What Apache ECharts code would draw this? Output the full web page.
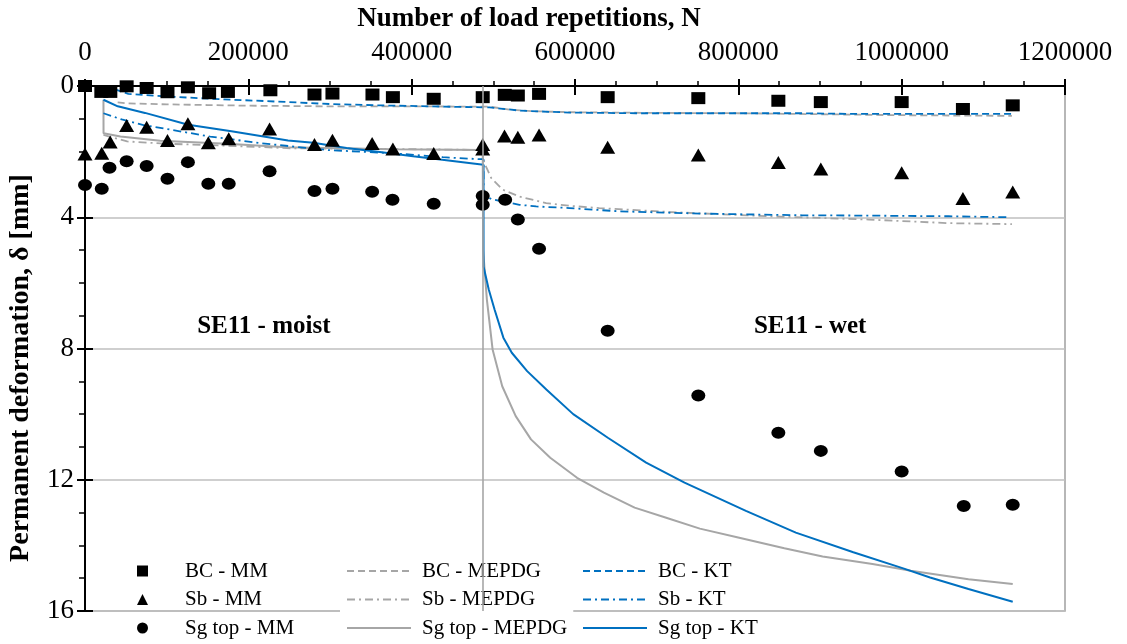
<!DOCTYPE html>
<html>
<head>
<meta charset="utf-8">
<script src="https://cdn.jsdelivr.net/npm/echarts@6/dist/echarts.min.js"></script>
<style>
  html, body { margin: 0; padding: 0; background: #fff; }
  #chart { width: 1127px; height: 644px; }
</style>
</head>
<body>
<div id="chart"></div>
<script>
// ---------- Data (N = load repetitions, δ = permanent deformation in mm) ----------
const xTicks = [0, 200000, 400000, 600000, 800000, 1000000, 1200000];
const yTicks = [0, 4, 8, 12, 16];
const separatorN = 487000;

const bcMM = [[0,0],[20000,0.18],[31000,0.18],[51000,0.01],[75500,0.06],[101000,0.19],[126000,0.04],[152000,0.22],[175000,0.18],[227000,0.13],[281000,0.26],[303000,0.23],[352000,0.26],[377000,0.34],[427000,0.39],[487000,0.34],[514000,0.27],[530000,0.29],[556000,0.24],[640000,0.34],[751000,0.37],[849000,0.45],[901000,0.49],[1000000,0.49],[1075000,0.7],[1136000,0.59]];
const sbMM = [[0,2.07],[20500,2.05],[30800,1.71],[51000,1.2],[75500,1.26],[101000,1.66],[126000,1.15],[151000,1.73],[176000,1.61],[226000,1.31],[281000,1.78],[303000,1.65],[351600,1.75],[377000,1.92],[427000,2.06],[487000,1.78],[487000,1.92],[513700,1.52],[530000,1.56],[556000,1.49],[640000,1.87],[751000,2.1],[849000,2.33],[901000,2.53],[1000000,2.64],[1075000,3.43],[1136000,3.23]];
const sgMM = [[0,3.02],[20500,3.13],[30000,2.49],[51000,2.29],[75500,2.44],[101000,2.83],[126000,2.32],[151000,2.98],[176000,2.98],[226000,2.6],[281000,3.2],[303000,3.13],[351600,3.22],[376500,3.47],[427000,3.59],[487000,3.35],[487000,3.62],[514500,3.47],[530000,4.07],[556000,4.96],[640000,7.46],[751000,9.43],[849000,10.57],[901000,11.12],[1000000,11.75],[1076000,12.8],[1136000,12.76]];

const bcMEPDG = [[40000,0.5],[53000,0.53],[100000,0.56],[150000,0.58],[200000,0.6],[250000,0.61],[300000,0.62],[400000,0.62],[487000,0.63],[495000,0.63],[520000,0.72],[550000,0.77],[600000,0.8],[650000,0.81],[700000,0.82],[800000,0.83],[900000,0.86],[1000000,0.89],[1135000,0.91]];
const sbMEPDG = [[22600,1.49],[51600,1.69],[100400,1.76],[173700,1.82],[255100,1.9],[377300,1.92],[486000,1.95],[487000,2.1],[489000,2.35],[497500,2.81],[511600,3.16],[532000,3.37],[564700,3.57],[593100,3.65],[629700,3.72],[715200,3.84],[837500,3.97],[959600,4.07],[1057400,4.18],[1135000,4.21]];
const sgMEPDG = [[22600,0.42],[22700,1.44],[43400,1.54],[92200,1.67],[173700,1.76],[247000,1.87],[377300,1.93],[487000,1.95],[487500,5.0],[492100,6.51],[499100,8.03],[510900,9.15],[527400,10.06],[546100,10.77],[569700,11.33],[602500,11.94],[635400,12.39],[673000,12.85],[710700,13.15],[752900,13.49],[799800,13.76],[856300,14.09],[903200,14.34],[964300,14.57],[1011300,14.77],[1081800,15.03],[1136000,15.18]];

const bcKT = [[22600,0.05],[37600,0.11],[53100,0.24],[93800,0.31],[154900,0.39],[248600,0.49],[299900,0.55],[361000,0.59],[422100,0.62],[487000,0.65],[495400,0.65],[532000,0.75],[593100,0.81],[674600,0.83],[878200,0.83],[935200,0.85],[1135000,0.85]];
const sbKT = [[22600,0.83],[45000,1.02],[71800,1.19],[153300,1.54],[214400,1.74],[295900,1.95],[377300,2.05],[438300,2.17],[483200,2.23],[488000,2.23],[488000,3.3],[497500,3.45],[511600,3.52],[532000,3.62],[552400,3.67],[593100,3.72],[654200,3.82],[756000,3.89],[878200,3.94],[959600,3.95],[1057400,3.97],[1132000,4.0]];
const sgKT = [[22600,0.42],[40100,0.62],[73500,0.82],[126400,1.18],[179300,1.38],[248600,1.66],[279500,1.73],[320300,1.89],[361000,2.01],[401700,2.14],[442500,2.26],[485300,2.39],[488000,2.4],[488000,5.5],[494400,6.2],[501500,6.81],[512300,7.67],[522600,8.13],[541400,8.69],[564900,9.25],[597800,10.0],[640200,10.72],[687100,11.48],[734100,12.09],[809300,12.95],[870400,13.61],[940800,14.21],[1001900,14.7],[1034800,14.98],[1081800,15.33],[1136000,15.72]];

const annotations = [
  { text: 'SE11 - moist', at: [219000, 7.33] },
  { text: 'SE11 - wet', at: [888000, 7.33] }
];

// ---------- Styling ----------
const FONT = '"Liberation Serif", "Times New Roman", serif';
const GRAY = '#a6a6a6';
const BLUE = '#0070c0';
const DASH = [7, 4];
const DASHDOT = [8, 4, 2, 4];

const chart = echarts.init(document.getElementById('chart'), null, { renderer: 'canvas' });

function scatter(name, data, symbol, size) {
  return { name, type: 'scatter', data, symbol, symbolSize: size, z: 4,
           itemStyle: { color: '#000', opacity: 1 }, animation: false };
}
function line(name, data, color, type, width) {
  return { name, type: 'line', data, showSymbol: false, symbol: 'none', z: 2,
           lineStyle: { color, type, width }, itemStyle: { color }, animation: false };
}

const sgMEPDGSeries = line('Sg top - MEPDG', sgMEPDG, GRAY, 'solid', 2);
sgMEPDGSeries.markLine = {
  silent: true, symbol: ['none', 'none'], label: { show: false }, animation: false,
  lineStyle: { color: GRAY, type: 'solid', width: 1.6 },
  data: [[{ coord: [separatorN, yTicks[0]] }, { coord: [separatorN, yTicks[yTicks.length - 1]] }]]
};

const legendText = { fontFamily: FONT, fontSize: 21, color: '#000', lineHeight: 22 };
const plainNum = v => String(v);

const option = {
  backgroundColor: '#fff',
  animation: false,
  grid: { left: 85, right: 62, top: 86, bottom: 33, show: true, borderColor: GRAY, borderWidth: 1.6, backgroundColor: 'transparent' },
  xAxis: [{
    type: 'value', position: 'top', min: xTicks[0], max: xTicks[xTicks.length - 1], interval: xTicks[1] - xTicks[0],
    axisLine: { show: true, onZero: false, lineStyle: { color: '#000', width: 2 } },
    axisTick: { show: true, length: 7, lineStyle: { color: '#000', width: 2 } },
    minorTick: { show: true, splitNumber: 4, length: 5, lineStyle: { color: '#000', width: 1.5 } },
    splitLine: { show: false },
    axisLabel: { fontFamily: FONT, fontSize: 27, color: '#000', margin: 20, formatter: plainNum }
  }, {
    type: 'value', position: 'top', min: xTicks[0], max: xTicks[xTicks.length - 1], interval: xTicks[1] - xTicks[0],
    axisLine: { show: false },
    axisTick: { show: true, inside: true, length: 9, lineStyle: { color: '#000', width: 2 } },
    axisLabel: { show: false }, splitLine: { show: false }
  }],
  yAxis: [{
    type: 'value', inverse: true, min: yTicks[0], max: yTicks[yTicks.length - 1], interval: yTicks[1] - yTicks[0],
    axisLine: { show: true, onZero: false, lineStyle: { color: '#000', width: 2 } },
    axisTick: { show: true, length: 8, lineStyle: { color: '#000', width: 2 } },
    minorTick: { show: true, splitNumber: 4, length: 6, lineStyle: { color: '#000', width: 1.5 } },
    splitLine: { show: true, lineStyle: { color: '#bfbfbf', width: 1.6 } },
    axisLabel: { fontFamily: FONT, fontSize: 27, color: '#000', margin: 11, formatter: plainNum }
  }, {
    type: 'value', inverse: true, min: yTicks[0], max: yTicks[yTicks.length - 1], interval: yTicks[1] - yTicks[0],
    position: 'left',
    axisLine: { show: false },
    axisTick: { show: true, inside: true, length: 8, lineStyle: { color: '#000', width: 2 } },
    axisLabel: { show: false }, splitLine: { show: false }
  }],
  legend: [{
    data: ['BC - MM', 'Sb - MM', 'Sg top - MM'], orient: 'vertical', left: 137, top: 560,
    itemWidth: 11, itemHeight: 11, itemGap: 6.5, padding: 0, height: 82,
    textStyle: Object.assign({}, legendText, { padding: [0, 0, 0, 32] })
  }, {
    data: ['BC - MEPDG', 'Sb - MEPDG', 'Sg top - MEPDG'], orient: 'vertical', left: 340, top: 556,
    itemWidth: 64, itemHeight: 12, itemGap: 6.5, padding: [4, 6, 2, 6], backgroundColor: '#fff', height: 82,
    itemStyle: { opacity: 0 },
    textStyle: Object.assign({}, legendText, { padding: [0, 0, 0, 6] })
  }, {
    data: ['BC - KT', 'Sb - KT', 'Sg top - KT'], orient: 'vertical', left: 582, top: 560,
    itemWidth: 64, itemHeight: 12, itemGap: 6.5, padding: 0, height: 82,
    itemStyle: { opacity: 0 },
    textStyle: Object.assign({}, legendText, { padding: [0, 0, 0, 6] })
  }],
  series: [
    scatter('BC - MM', bcMM, 'rect', [14, 12]),
    scatter('Sb - MM', sbMM, 'triangle', [15, 13]),
    scatter('Sg top - MM', sgMM, 'circle', [14, 12]),
    line('BC - MEPDG', bcMEPDG, GRAY, DASH, 1.8),
    line('Sb - MEPDG', sbMEPDG, GRAY, DASHDOT, 1.8),
    sgMEPDGSeries,
    line('BC - KT', bcKT, BLUE, DASH, 1.8),
    line('Sb - KT', sbKT, BLUE, DASHDOT, 1.8),
    line('Sg top - KT', sgKT, BLUE, 'solid', 2)
  ]
};
chart.setOption(option);

// Titles and in-plot annotations
const graphics = [
  { type: 'text', x: 529, y: 19, style: { text: 'Number of load repetitions, N', font: 'bold 27px ' + FONT, fill: '#000', align: 'center', verticalAlign: 'middle' } },
  { type: 'text', rotation: Math.PI / 2, x: 21, y: 368, style: { text: 'Permanent deformation, δ [mm]', font: 'bold 28px ' + FONT, fill: '#000', align: 'center', verticalAlign: 'middle' } }
];
annotations.forEach(a => {
  const p = chart.convertToPixel({ gridIndex: 0 }, a.at);
  graphics.push({ type: 'text', x: p[0], y: p[1], style: { text: a.text, font: 'bold 25px ' + FONT, fill: '#000', align: 'center', verticalAlign: 'middle' } });
});
chart.setOption({ graphic: graphics });
</script>
</body>
</html>
